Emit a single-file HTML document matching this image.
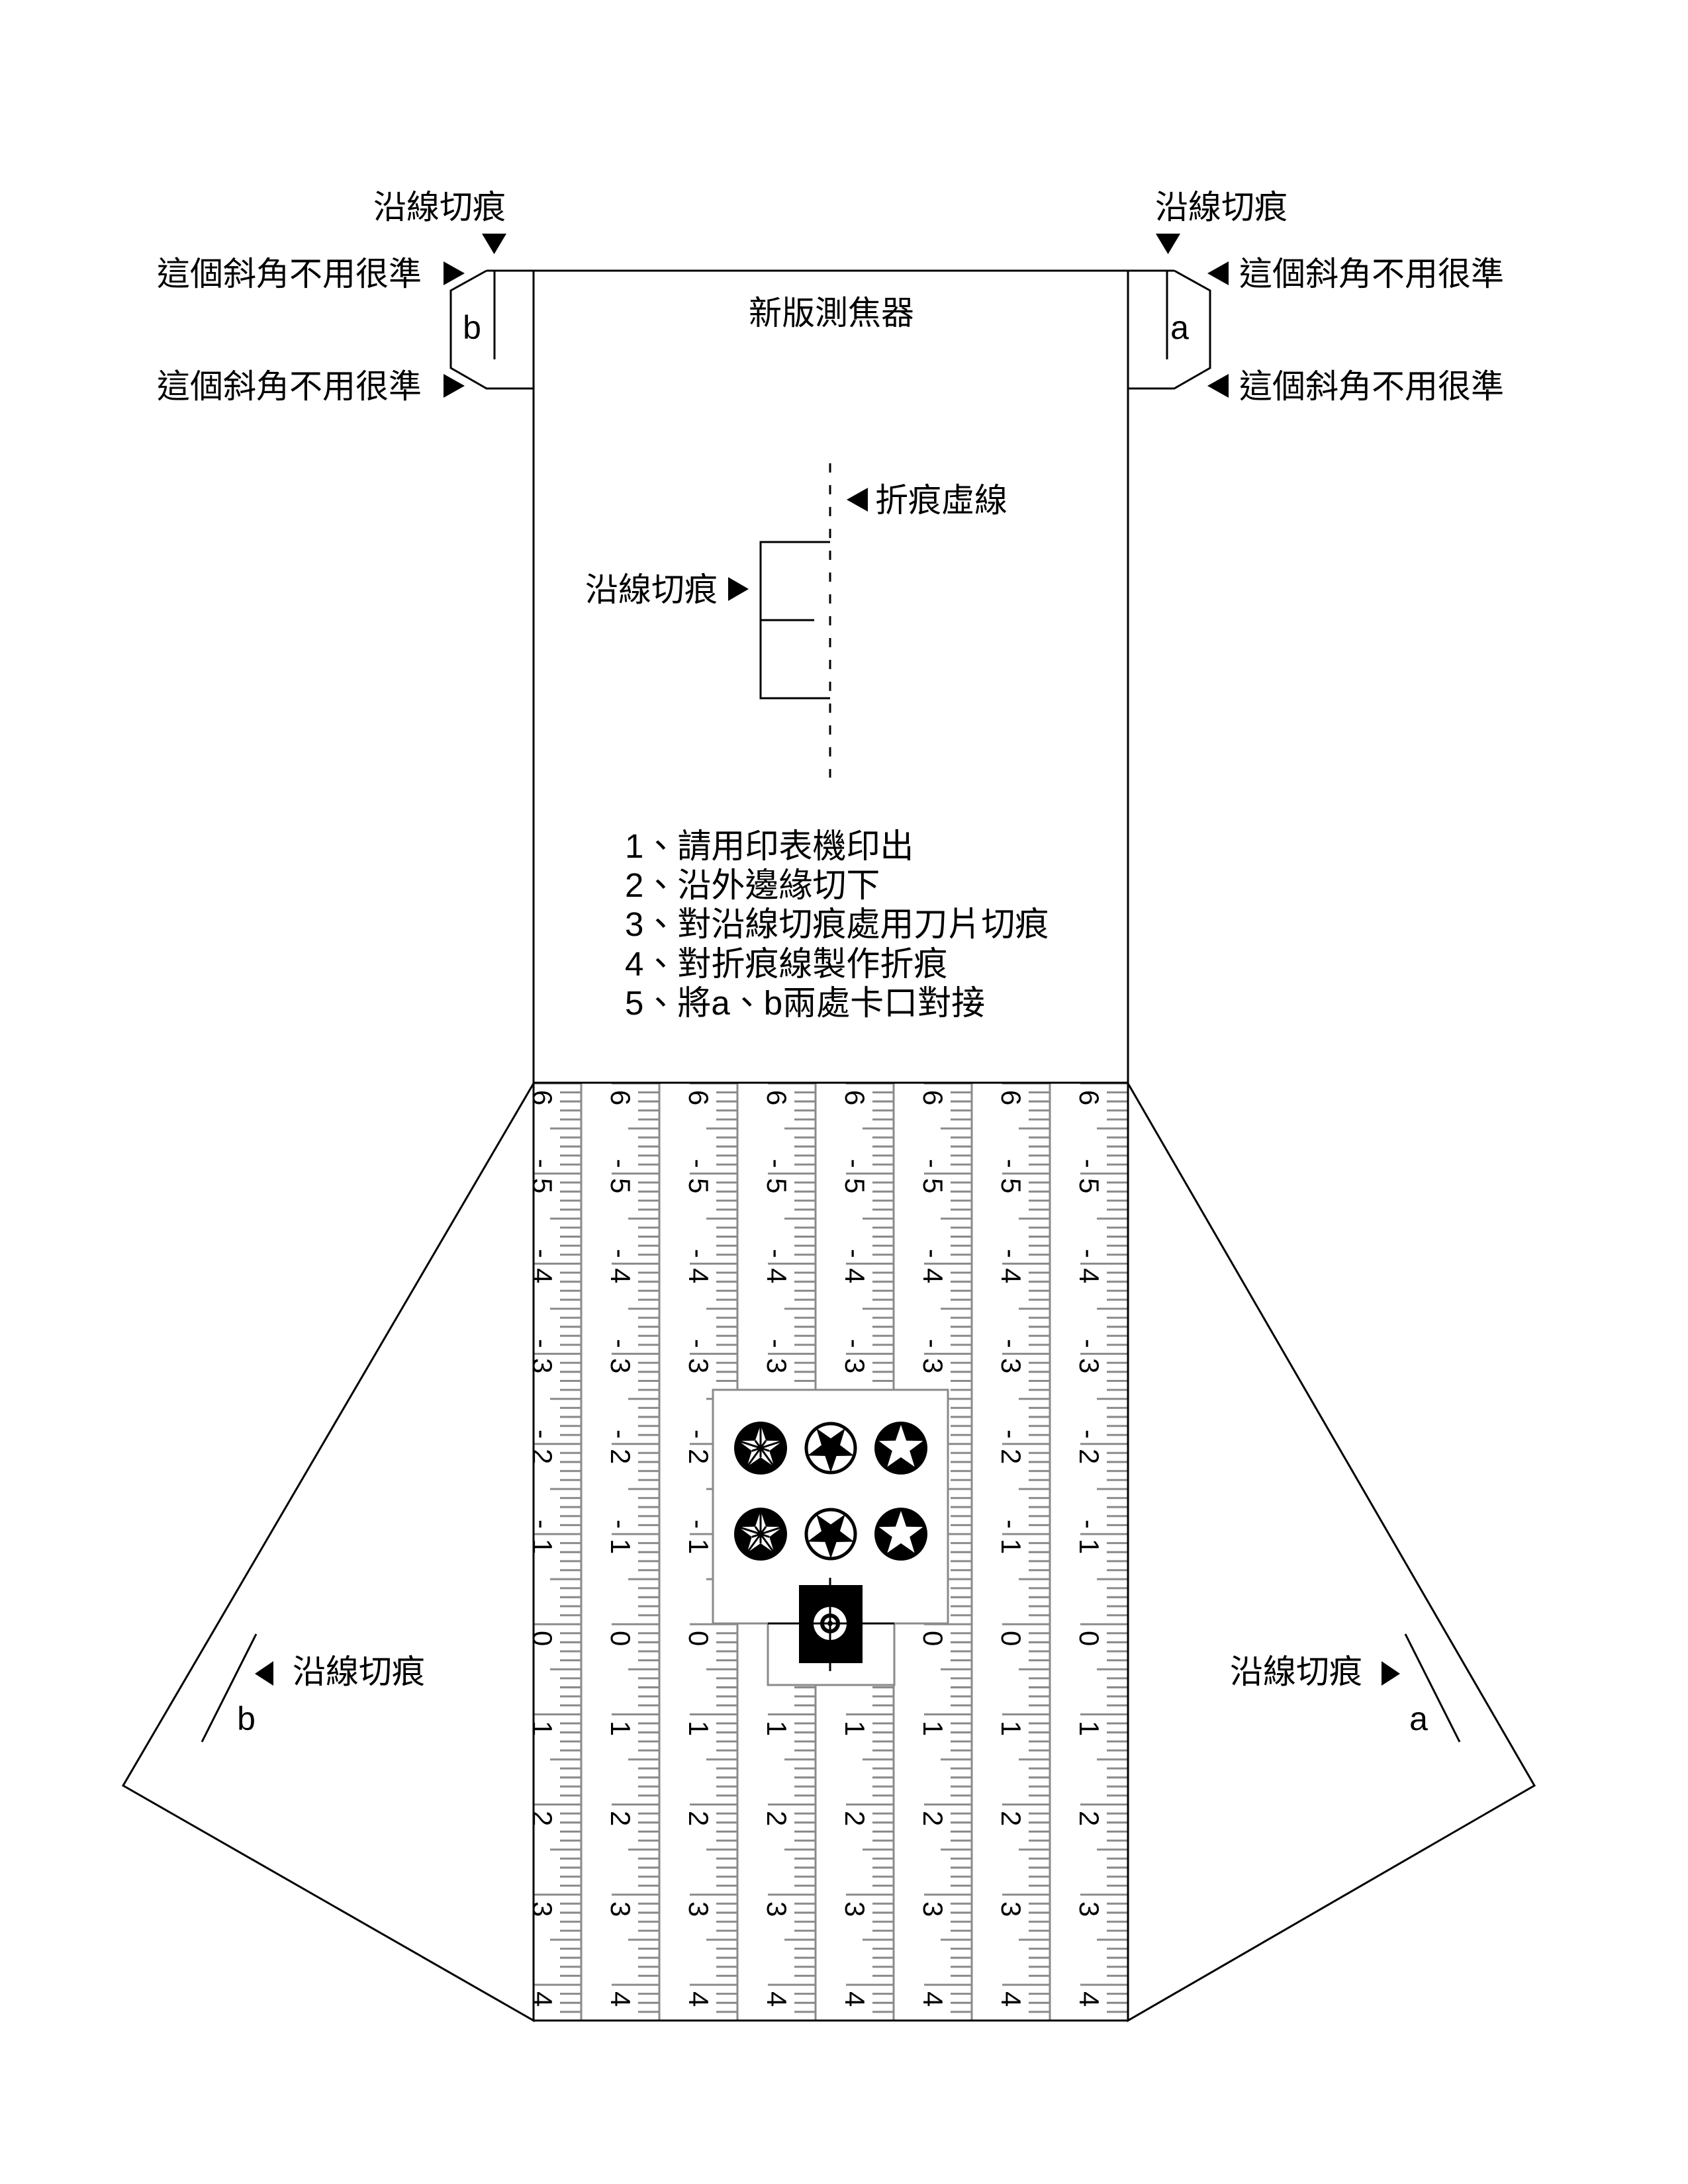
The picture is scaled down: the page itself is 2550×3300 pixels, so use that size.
<!DOCTYPE html>
<html><head><meta charset="utf-8"><style>
html,body{margin:0;padding:0;background:#fff;}
svg{display:block;}
.t{font-family:"Liberation Sans","Noto Sans CJK TC",sans-serif;font-size:50px;fill:#000;}
.n{font-family:"Liberation Sans",sans-serif;font-size:42px;fill:#000;}
</style></head><body>
<svg width="2550" height="3300" viewBox="0 0 2550 3300" xmlns="http://www.w3.org/2000/svg">
<defs>
<pattern id="tk" patternUnits="userSpaceOnUse" x="760" y="1632" width="118" height="136.2">
<g stroke="#8a8a8a" stroke-width="3">
<line x1="46" y1="5" x2="118" y2="5"/>
<line x1="86" y1="18.62" x2="118" y2="18.62"/>
<line x1="86" y1="32.24" x2="118" y2="32.24"/>
<line x1="86" y1="45.86" x2="118" y2="45.86"/>
<line x1="86" y1="59.48" x2="118" y2="59.48"/>
<line x1="71" y1="73.1" x2="118" y2="73.1"/>
<line x1="86" y1="86.72" x2="118" y2="86.72"/>
<line x1="86" y1="100.34" x2="118" y2="100.34"/>
<line x1="86" y1="113.96" x2="118" y2="113.96"/>
<line x1="86" y1="127.58" x2="118" y2="127.58"/>
</g>
</pattern>
<clipPath id="rc"><rect x="806" y="1637" width="898" height="1416"/></clipPath>
</defs>

<!-- wings -->
<polygon points="806,1637 186,2698 806,3053" fill="#fff" stroke="#000" stroke-width="3"/>
<polygon points="1704,1637 2318,2698 1704,3053" fill="#fff" stroke="#000" stroke-width="3"/>

<!-- ruler -->
<rect x="806" y="1637" width="898" height="1416" fill="url(#tk)"/>
<g stroke="#8a8a8a" stroke-width="3">
<line x1="878" y1="1637" x2="878" y2="3053"/><line x1="996" y1="1637" x2="996" y2="3053"/>
<line x1="1114" y1="1637" x2="1114" y2="3053"/><line x1="1232" y1="1637" x2="1232" y2="3053"/>
<line x1="1350" y1="1637" x2="1350" y2="3053"/><line x1="1468" y1="1637" x2="1468" y2="3053"/>
<line x1="1586" y1="1637" x2="1586" y2="3053"/>
</g>
<g clip-path="url(#rc)">
<g>
<text class="n" transform="translate(805,1647) rotate(90)">6</text>
<text class="n" transform="translate(805,1751) rotate(90)">-</text><text class="n" transform="translate(805,1780) rotate(90)">5</text>
<text class="n" transform="translate(805,1887) rotate(90)">-</text><text class="n" transform="translate(805,1916) rotate(90)">4</text>
<text class="n" transform="translate(805,2023) rotate(90)">-</text><text class="n" transform="translate(805,2052) rotate(90)">3</text>
<text class="n" transform="translate(805,2160) rotate(90)">-</text><text class="n" transform="translate(805,2189) rotate(90)">2</text>
<text class="n" transform="translate(805,2296) rotate(90)">-</text><text class="n" transform="translate(805,2325) rotate(90)">1</text>
<text class="n" transform="translate(805,2464) rotate(90)">0</text>
<text class="n" transform="translate(805,2600) rotate(90)">1</text>
<text class="n" transform="translate(805,2736) rotate(90)">2</text>
<text class="n" transform="translate(805,2873) rotate(90)">3</text>
<text class="n" transform="translate(805,3009) rotate(90)">4</text>
</g>
<g transform="translate(118,0)">
<text class="n" transform="translate(805,1647) rotate(90)">6</text>
<text class="n" transform="translate(805,1751) rotate(90)">-</text><text class="n" transform="translate(805,1780) rotate(90)">5</text>
<text class="n" transform="translate(805,1887) rotate(90)">-</text><text class="n" transform="translate(805,1916) rotate(90)">4</text>
<text class="n" transform="translate(805,2023) rotate(90)">-</text><text class="n" transform="translate(805,2052) rotate(90)">3</text>
<text class="n" transform="translate(805,2160) rotate(90)">-</text><text class="n" transform="translate(805,2189) rotate(90)">2</text>
<text class="n" transform="translate(805,2296) rotate(90)">-</text><text class="n" transform="translate(805,2325) rotate(90)">1</text>
<text class="n" transform="translate(805,2464) rotate(90)">0</text>
<text class="n" transform="translate(805,2600) rotate(90)">1</text>
<text class="n" transform="translate(805,2736) rotate(90)">2</text>
<text class="n" transform="translate(805,2873) rotate(90)">3</text>
<text class="n" transform="translate(805,3009) rotate(90)">4</text>
</g>
<g transform="translate(236,0)">
<text class="n" transform="translate(805,1647) rotate(90)">6</text>
<text class="n" transform="translate(805,1751) rotate(90)">-</text><text class="n" transform="translate(805,1780) rotate(90)">5</text>
<text class="n" transform="translate(805,1887) rotate(90)">-</text><text class="n" transform="translate(805,1916) rotate(90)">4</text>
<text class="n" transform="translate(805,2023) rotate(90)">-</text><text class="n" transform="translate(805,2052) rotate(90)">3</text>
<text class="n" transform="translate(805,2160) rotate(90)">-</text><text class="n" transform="translate(805,2189) rotate(90)">2</text>
<text class="n" transform="translate(805,2296) rotate(90)">-</text><text class="n" transform="translate(805,2325) rotate(90)">1</text>
<text class="n" transform="translate(805,2464) rotate(90)">0</text>
<text class="n" transform="translate(805,2600) rotate(90)">1</text>
<text class="n" transform="translate(805,2736) rotate(90)">2</text>
<text class="n" transform="translate(805,2873) rotate(90)">3</text>
<text class="n" transform="translate(805,3009) rotate(90)">4</text>
</g>
<g transform="translate(354,0)">
<text class="n" transform="translate(805,1647) rotate(90)">6</text>
<text class="n" transform="translate(805,1751) rotate(90)">-</text><text class="n" transform="translate(805,1780) rotate(90)">5</text>
<text class="n" transform="translate(805,1887) rotate(90)">-</text><text class="n" transform="translate(805,1916) rotate(90)">4</text>
<text class="n" transform="translate(805,2023) rotate(90)">-</text><text class="n" transform="translate(805,2052) rotate(90)">3</text>
<text class="n" transform="translate(805,2160) rotate(90)">-</text><text class="n" transform="translate(805,2189) rotate(90)">2</text>
<text class="n" transform="translate(805,2296) rotate(90)">-</text><text class="n" transform="translate(805,2325) rotate(90)">1</text>
<text class="n" transform="translate(805,2464) rotate(90)">0</text>
<text class="n" transform="translate(805,2600) rotate(90)">1</text>
<text class="n" transform="translate(805,2736) rotate(90)">2</text>
<text class="n" transform="translate(805,2873) rotate(90)">3</text>
<text class="n" transform="translate(805,3009) rotate(90)">4</text>
</g>
<g transform="translate(472,0)">
<text class="n" transform="translate(805,1647) rotate(90)">6</text>
<text class="n" transform="translate(805,1751) rotate(90)">-</text><text class="n" transform="translate(805,1780) rotate(90)">5</text>
<text class="n" transform="translate(805,1887) rotate(90)">-</text><text class="n" transform="translate(805,1916) rotate(90)">4</text>
<text class="n" transform="translate(805,2023) rotate(90)">-</text><text class="n" transform="translate(805,2052) rotate(90)">3</text>
<text class="n" transform="translate(805,2160) rotate(90)">-</text><text class="n" transform="translate(805,2189) rotate(90)">2</text>
<text class="n" transform="translate(805,2296) rotate(90)">-</text><text class="n" transform="translate(805,2325) rotate(90)">1</text>
<text class="n" transform="translate(805,2464) rotate(90)">0</text>
<text class="n" transform="translate(805,2600) rotate(90)">1</text>
<text class="n" transform="translate(805,2736) rotate(90)">2</text>
<text class="n" transform="translate(805,2873) rotate(90)">3</text>
<text class="n" transform="translate(805,3009) rotate(90)">4</text>
</g>
<g transform="translate(590,0)">
<text class="n" transform="translate(805,1647) rotate(90)">6</text>
<text class="n" transform="translate(805,1751) rotate(90)">-</text><text class="n" transform="translate(805,1780) rotate(90)">5</text>
<text class="n" transform="translate(805,1887) rotate(90)">-</text><text class="n" transform="translate(805,1916) rotate(90)">4</text>
<text class="n" transform="translate(805,2023) rotate(90)">-</text><text class="n" transform="translate(805,2052) rotate(90)">3</text>
<text class="n" transform="translate(805,2160) rotate(90)">-</text><text class="n" transform="translate(805,2189) rotate(90)">2</text>
<text class="n" transform="translate(805,2296) rotate(90)">-</text><text class="n" transform="translate(805,2325) rotate(90)">1</text>
<text class="n" transform="translate(805,2464) rotate(90)">0</text>
<text class="n" transform="translate(805,2600) rotate(90)">1</text>
<text class="n" transform="translate(805,2736) rotate(90)">2</text>
<text class="n" transform="translate(805,2873) rotate(90)">3</text>
<text class="n" transform="translate(805,3009) rotate(90)">4</text>
</g>
<g transform="translate(708,0)">
<text class="n" transform="translate(805,1647) rotate(90)">6</text>
<text class="n" transform="translate(805,1751) rotate(90)">-</text><text class="n" transform="translate(805,1780) rotate(90)">5</text>
<text class="n" transform="translate(805,1887) rotate(90)">-</text><text class="n" transform="translate(805,1916) rotate(90)">4</text>
<text class="n" transform="translate(805,2023) rotate(90)">-</text><text class="n" transform="translate(805,2052) rotate(90)">3</text>
<text class="n" transform="translate(805,2160) rotate(90)">-</text><text class="n" transform="translate(805,2189) rotate(90)">2</text>
<text class="n" transform="translate(805,2296) rotate(90)">-</text><text class="n" transform="translate(805,2325) rotate(90)">1</text>
<text class="n" transform="translate(805,2464) rotate(90)">0</text>
<text class="n" transform="translate(805,2600) rotate(90)">1</text>
<text class="n" transform="translate(805,2736) rotate(90)">2</text>
<text class="n" transform="translate(805,2873) rotate(90)">3</text>
<text class="n" transform="translate(805,3009) rotate(90)">4</text>
</g>
<g transform="translate(826,0)">
<text class="n" transform="translate(805,1647) rotate(90)">6</text>
<text class="n" transform="translate(805,1751) rotate(90)">-</text><text class="n" transform="translate(805,1780) rotate(90)">5</text>
<text class="n" transform="translate(805,1887) rotate(90)">-</text><text class="n" transform="translate(805,1916) rotate(90)">4</text>
<text class="n" transform="translate(805,2023) rotate(90)">-</text><text class="n" transform="translate(805,2052) rotate(90)">3</text>
<text class="n" transform="translate(805,2160) rotate(90)">-</text><text class="n" transform="translate(805,2189) rotate(90)">2</text>
<text class="n" transform="translate(805,2296) rotate(90)">-</text><text class="n" transform="translate(805,2325) rotate(90)">1</text>
<text class="n" transform="translate(805,2464) rotate(90)">0</text>
<text class="n" transform="translate(805,2600) rotate(90)">1</text>
<text class="n" transform="translate(805,2736) rotate(90)">2</text>
<text class="n" transform="translate(805,2873) rotate(90)">3</text>
<text class="n" transform="translate(805,3009) rotate(90)">4</text>
</g>
</g>

<!-- central box -->
<rect x="1077" y="2100" width="355" height="353" fill="#fff" stroke="#8a8a8a" stroke-width="3"/>
<rect x="1160" y="2453" width="191" height="93" fill="#fff" stroke="#8a8a8a" stroke-width="3"/>
<line x1="1160" y1="2453" x2="1351" y2="2453" stroke="#000" stroke-width="3"/>

<!-- stars style 1 -->
<g>
<circle cx="1149" cy="2188" r="40" fill="#000"/>
<polygon points="1149,2153 1157.1,2176.7 1182.3,2177.2 1162.2,2192.3 1169.6,2216.3 1149,2201.9 1128.4,2216.3 1135.8,2192.3 1115.7,2177.2 1140.9,2176.7" fill="#fff"/>
<g stroke="#000" stroke-width="3">
<line x1="1149" y1="2188" x2="1149" y2="2153"/><line x1="1149" y1="2188" x2="1182.3" y2="2177.2"/>
<line x1="1149" y1="2188" x2="1169.6" y2="2216.3"/><line x1="1149" y1="2188" x2="1128.4" y2="2216.3"/>
<line x1="1149" y1="2188" x2="1115.7" y2="2177.2"/>
<line x1="1149" y1="2188" x2="1157.1" y2="2176.7"/><line x1="1149" y1="2188" x2="1162.2" y2="2192.3"/>
<line x1="1149" y1="2188" x2="1149" y2="2201.9"/><line x1="1149" y1="2188" x2="1135.8" y2="2192.3"/>
<line x1="1149" y1="2188" x2="1140.9" y2="2176.7"/>
</g>
</g>
<g transform="translate(0,130)">
<circle cx="1149" cy="2188" r="40" fill="#000"/>
<polygon points="1149,2153 1157.1,2176.7 1182.3,2177.2 1162.2,2192.3 1169.6,2216.3 1149,2201.9 1128.4,2216.3 1135.8,2192.3 1115.7,2177.2 1140.9,2176.7" fill="#fff"/>
<g stroke="#000" stroke-width="3">
<line x1="1149" y1="2188" x2="1149" y2="2153"/><line x1="1149" y1="2188" x2="1182.3" y2="2177.2"/>
<line x1="1149" y1="2188" x2="1169.6" y2="2216.3"/><line x1="1149" y1="2188" x2="1128.4" y2="2216.3"/>
<line x1="1149" y1="2188" x2="1115.7" y2="2177.2"/>
<line x1="1149" y1="2188" x2="1157.1" y2="2176.7"/><line x1="1149" y1="2188" x2="1162.2" y2="2192.3"/>
<line x1="1149" y1="2188" x2="1149" y2="2201.9"/><line x1="1149" y1="2188" x2="1135.8" y2="2192.3"/>
<line x1="1149" y1="2188" x2="1140.9" y2="2176.7"/>
</g>
</g>
<!-- style 2 -->
<g>
<circle cx="1255" cy="2188" r="37" fill="#fff" stroke="#000" stroke-width="5"/>
<polygon points="1255,2151 1263.6,2176.1 1290.2,2176.6 1269,2192.6 1276.7,2217.9 1255,2202.7 1233.3,2217.9 1241,2192.6 1219.8,2176.6 1246.4,2176.1" fill="#000" transform="rotate(36 1255 2188)"/>
<circle cx="1255" cy="2318" r="37" fill="#fff" stroke="#000" stroke-width="5"/>
<polygon points="1255,2281 1263.6,2306.1 1290.2,2306.6 1269,2322.6 1276.7,2347.9 1255,2332.7 1233.3,2347.9 1241,2322.6 1219.8,2306.6 1246.4,2306.1" fill="#000" transform="rotate(36 1255 2318)"/>
</g>
<!-- style 3 -->
<g>
<circle cx="1361" cy="2188" r="40" fill="#000"/>
<polygon points="1361,2153 1369.1,2176.7 1394.3,2177.2 1374.2,2192.3 1381.6,2216.3 1361,2201.9 1340.4,2216.3 1347.8,2192.3 1327.7,2177.2 1352.9,2176.7" fill="#fff"/>
<circle cx="1361" cy="2318" r="40" fill="#000"/>
<polygon points="1361,2283 1369.1,2306.7 1394.3,2307.2 1374.2,2322.3 1381.6,2346.3 1361,2331.9 1340.4,2346.3 1347.8,2322.3 1327.7,2307.2 1352.9,2306.7" fill="#fff"/>
</g>

<!-- target -->
<rect x="1207" y="2395" width="96" height="118" fill="#000"/>
<circle cx="1254" cy="2453" r="25" fill="#fff"/>
<circle cx="1254" cy="2453" r="15" fill="#000"/>
<circle cx="1254" cy="2453" r="9" fill="#fff"/>
<circle cx="1254" cy="2453" r="4" fill="#000"/>
<line x1="1254" y1="2384" x2="1254" y2="2525" stroke="#000" stroke-width="3"/>
<line x1="1207" y1="2453" x2="1303" y2="2453" stroke="#000" stroke-width="3"/>

<!-- main outline -->
<g fill="none" stroke="#000" stroke-width="3">
<line x1="806" y1="409" x2="806" y2="3053"/>
<line x1="1704" y1="409" x2="1704" y2="3053"/>
<line x1="735" y1="409" x2="1774" y2="409"/>
<line x1="806" y1="1636" x2="1704" y2="1636"/>
<line x1="806" y1="3053" x2="1704" y2="3053"/>
<polyline points="735,409 681,439 681,556 735,587 806,587"/>
<polyline points="1774,409 1828,439 1828,556 1774,587 1704,587"/>
<line x1="747" y1="409" x2="747" y2="543"/>
<line x1="1763" y1="409" x2="1763" y2="543"/>
<!-- cut bracket -->
<polyline points="1254,819 1149,819 1149,1055 1254,1055"/>
<line x1="1149" y1="937" x2="1230" y2="937"/>
<!-- wing slits -->
<line x1="387" y1="2469" x2="305" y2="2632"/>
<line x1="2123" y1="2469" x2="2205" y2="2632"/>
</g>
<line x1="1254" y1="700" x2="1254" y2="1175" stroke="#000" stroke-width="3" stroke-dasharray="14 19"/>

<!-- triangles -->
<g fill="#000">
<polygon points="728,353 765,353 746.5,384"/>
<polygon points="1746,353 1783,353 1764.5,384"/>
<polygon points="670,395 702,413 670,431"/>
<polygon points="670,565 702,583 670,601"/>
<polygon points="1856,395 1824,413 1856,431"/>
<polygon points="1856,565 1824,583 1856,601"/>
<polygon points="1279,755 1311,737 1311,773"/>
<polygon points="1100,872 1131,890 1100,908"/>
<polygon points="413,2510 413,2547 385,2529"/>
<polygon points="2087,2510 2087,2547 2115,2529"/>
</g>

<!-- labels -->
<text class="t" x="664" y="330" text-anchor="middle">沿線切痕</text>
<text class="t" x="1845" y="330" text-anchor="middle">沿線切痕</text>
<text class="t" x="637" y="431" text-anchor="end">這個斜角不用很準</text>
<text class="t" x="637" y="601" text-anchor="end">這個斜角不用很準</text>
<text class="t" x="1872" y="431">這個斜角不用很準</text>
<text class="t" x="1872" y="601">這個斜角不用很準</text>
<text class="t" x="713" y="512" text-anchor="middle">b</text>
<text class="t" x="1782" y="512" text-anchor="middle">a</text>
<text class="t" x="1256" y="490" text-anchor="middle">新版測焦器</text>
<text class="t" x="1322" y="773">折痕虛線</text>
<text class="t" x="1084" y="908" text-anchor="end">沿線切痕</text>
<g class="t" style="font-size:51px">
<text x="944" y="1296">1、請用印表機印出</text>
<text x="944" y="1355">2、沿外邊緣切下</text>
<text x="944" y="1414">3、對沿線切痕處用刀片切痕</text>
<text x="944" y="1474">4、對折痕線製作折痕</text>
<text x="944" y="1533">5、將a、b兩處卡口對接</text>
</g>
<text class="t" x="442" y="2543">沿線切痕</text>
<text class="t" x="2058" y="2543" text-anchor="end">沿線切痕</text>
<text class="t" x="372" y="2614" text-anchor="middle">b</text>
<text class="t" x="2143" y="2614" text-anchor="middle">a</text>
</svg>
</body></html>
